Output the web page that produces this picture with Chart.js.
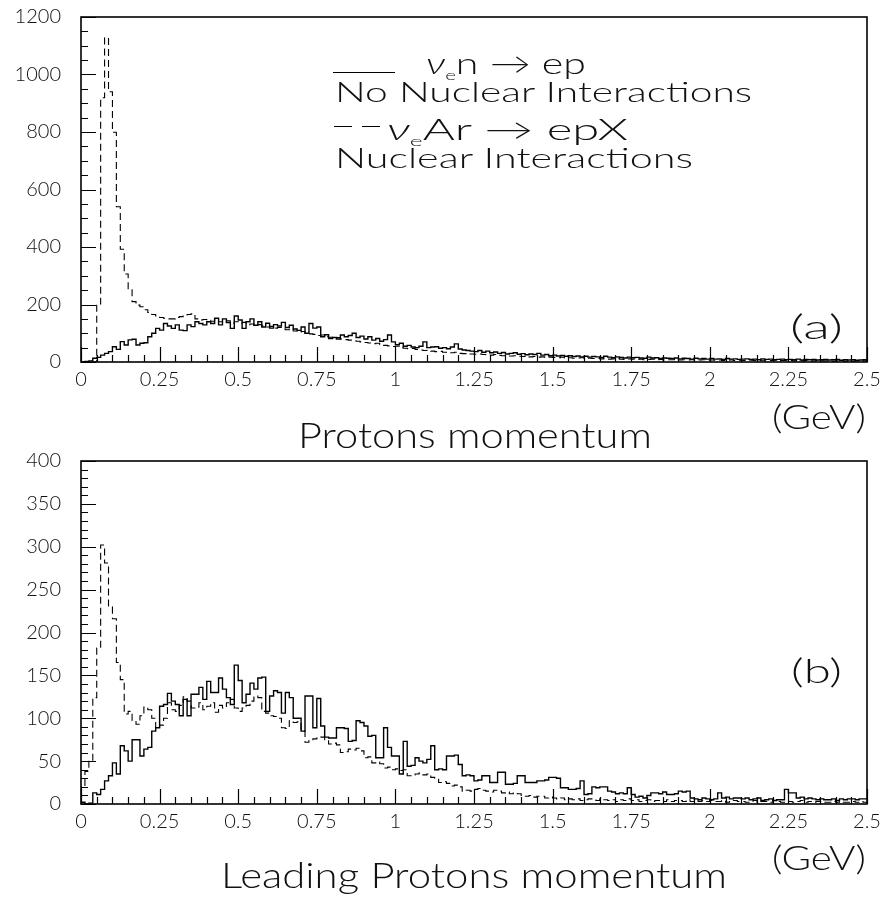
<!DOCTYPE html>
<html>
<head>
<meta charset="utf-8">
<script src="https://cdn.jsdelivr.net/npm/chart.js@4.4.1/dist/chart.umd.min.js"></script>
<style>
  body { margin: 0; background: #fff; }
  #page { position: relative; width: 889px; height: 901px; overflow: hidden;
          font-family: Lato, 'DejaVu Sans', sans-serif; font-weight: 300; color: #111; }
  canvas { position: absolute; left: 0; }
  .txt { position: absolute; white-space: nowrap; line-height: 1; transform-origin: 0 0; }
  .txt sub { font-size: 0.5em; vertical-align: baseline; position: relative; top: 0.45em; }
  .key { position: absolute; height: 0; border-top: 1.5px solid #000; }
</style>
</head>
<body>
<div id="page">
  <canvas id="protons" width="889" height="440" style="top:0"></canvas>
  <canvas id="leading" width="889" height="461" style="top:440px"></canvas>
</div>
<script>
// Histogram binning (GeV)
const BIN_WIDTH = 0.0125;
const X_TICKS = [0, 0.25, 0.5, 0.75, 1, 1.25, 1.5, 1.75, 2, 2.25, 2.5];
const X_TICK_LABELS = ['0', '0.25', '0.5', '0.75', '1', '1.25', '1.5', '1.75', '2', '2.25', '2.5'];
const TOP_Y_TICKS = [0, 200, 400, 600, 800, 1000, 1200];
const LEAD_Y_TICKS = [0, 50, 100, 150, 200, 250, 300, 350, 400];

// (a) all protons -- nu_e n -> e p, no nuclear interactions (solid)
const TOP_FREE = [
  0, 2, 4, 13, 16, 24, 30, 36, 53, 44,
  71, 59, 77, 79, 59, 65, 67, 88, 100, 117,
  111, 134, 125, 117, 129, 111, 109, 129, 123, 140,
  134, 129, 140, 134, 152, 129, 150, 137, 117, 160,
  146, 117, 140, 150, 128, 140, 122, 135, 118, 130,
  125, 138, 120, 128, 115, 110, 122, 100, 134, 118,
  122, 88, 95, 82, 85, 80, 94, 88, 92, 100,
  85, 90, 80, 88, 76, 82, 72, 78, 94, 70,
  60, 65, 55, 58, 52, 50, 55, 70, 50, 52,
  53, 48, 50, 46, 52, 63, 45, 42, 40, 38,
  36, 40, 34, 38, 32, 35, 30, 33, 28, 30,
  32, 27, 29, 25, 28, 26, 30, 24, 26, 22,
  24, 21, 23, 20, 22, 19, 21, 18, 20, 17,
  19, 18, 16, 20, 17, 15, 18, 16, 14, 17,
  15, 16, 14, 13, 17, 14, 15, 12, 14, 13,
  12, 14, 11, 13, 12, 10, 13, 11, 12, 10,
  12, 10, 11, 9, 12, 10, 11, 9, 10, 11,
  9, 10, 8, 11, 9, 10, 8, 9, 10, 8,
  9, 8, 10, 7, 9, 8, 9, 7, 8, 9,
  7, 8, 9, 6, 8, 7, 8, 6, 7, 8
];

// (a) all protons -- nu_e Ar -> e p X, with nuclear interactions (dashed)
const TOP_NUCLEAR = [
  0, 0, 0, 0, 202, 919, 1128, 940, 799, 540,
  392, 306, 253, 210, 198, 192, 182, 172, 165, 160,
  155, 152, 150, 150, 155, 158, 160, 165, 168, 150,
  146, 148, 145, 142, 150, 140, 138, 143, 135, 140,
  135, 138, 130, 132, 128, 130, 125, 122, 124, 118,
  120, 115, 112, 116, 108, 104, 106, 100, 98, 96,
  92, 94, 88, 86, 84, 85, 80, 78, 76, 74,
  72, 70, 68, 66, 64, 65, 60, 58, 56, 54,
  55, 50, 48, 46, 47, 44, 42, 40, 41, 38,
  36, 37, 34, 33, 32, 34, 30, 29, 30, 28,
  27, 28, 26, 25, 24, 26, 23, 22, 23, 21,
  22, 20, 19, 21, 18, 19, 17, 18, 16, 17,
  16, 15, 17, 14, 15, 13, 14, 15, 12, 13,
  12, 13, 11, 12, 10, 11, 12, 10, 9, 11,
  10, 9, 10, 8, 9, 10, 8, 9, 7, 8,
  8, 9, 7, 8, 7, 8, 6, 7, 8, 6,
  7, 6, 7, 5, 6, 7, 5, 6, 5, 6,
  6, 5, 5, 6, 4, 5, 6, 4, 5, 5,
  5, 4, 5, 4, 5, 3, 4, 5, 4, 4,
  4, 3, 4, 5, 3, 4, 3, 4, 3, 4
];

// (b) leading protons, no nuclear interactions (solid)
const LEAD_FREE = [
  2, 0, 1, 13, 11, 17, 27, 33, 48, 35,
  68, 62, 50, 75, 75, 56, 64, 66, 85, 89,
  114, 116, 129, 120, 116, 103, 122, 103, 128, 128,
  136, 122, 143, 130, 130, 147, 134, 124, 116, 162,
  144, 118, 128, 141, 134, 147, 148, 108, 126, 132,
  130, 106, 130, 124, 100, 100, 85, 126, 126, 89,
  123, 91, 78, 77, 77, 89, 89, 88, 73, 74,
  97, 95, 91, 79, 80, 54, 54, 89, 66, 56,
  56, 35, 73, 44, 45, 54, 50, 48, 52, 68,
  40, 41, 40, 56, 56, 57, 46, 33, 34, 33,
  27, 28, 33, 33, 25, 25, 37, 37, 23, 23,
  24, 33, 33, 25, 25, 25, 27, 27, 28, 31,
  31, 30, 19, 19, 17, 17, 18, 27, 11, 12,
  20, 19, 20, 20, 15, 14, 12, 13, 12, 19,
  11, 8, 9, 7, 10, 13, 13, 12, 14, 11,
  11, 12, 15, 14, 15, 7, 6, 5, 7, 6,
  5, 6, 13, 7, 8, 6, 7, 7, 6, 7,
  5, 6, 7, 4, 5, 6, 4, 5, 5, 17,
  13, 13, 7, 8, 6, 7, 6, 5, 6, 5,
  5, 6, 4, 6, 5, 6, 6, 5, 6, 6
];

// (b) leading protons, with nuclear interactions (dashed)
const LEAD_NUCLEAR = [
  20, 38, 51, 124, 182, 302, 281, 230, 216, 165,
  145, 105, 108, 97, 93, 103, 113, 110, 100, 88,
  92, 100, 118, 110, 108, 115, 125, 120, 112, 113,
  118, 110, 114, 118, 107, 115, 112, 118, 122, 112,
  108, 112, 115, 120, 126, 124, 108, 106, 103, 102,
  100, 89, 88, 97, 95, 96, 85, 72, 74, 76,
  77, 78, 75, 70, 71, 69, 60, 61, 64, 63,
  65, 62, 54, 55, 48, 49, 47, 42, 43, 40,
  41, 39, 40, 33, 34, 35, 36, 34, 35, 31,
  30, 25, 26, 24, 21, 22, 20, 15, 16, 15,
  17, 18, 16, 15, 14, 16, 15, 13, 14, 12,
  13, 12, 10, 9, 10, 8, 9, 9, 7, 8,
  7, 6, 7, 5, 6, 5, 6, 4, 5, 6,
  5, 4, 6, 5, 4, 5, 3, 5, 4, 6,
  4, 5, 3, 4, 5, 3, 4, 4, 3, 5,
  3, 4, 4, 3, 5, 3, 4, 3, 4, 3,
  4, 3, 3, 4, 2, 3, 4, 3, 3, 2,
  3, 4, 2, 3, 3, 2, 4, 3, 2, 3,
  3, 2, 3, 4, 2, 3, 2, 3, 3, 2,
  2, 3, 2, 3, 2, 2, 3, 2, 3, 2
];

// histogram -> step points (value of point i holds until the next edge)
function toSteps(values) {
  const pts = [{ x: 0, y: 0 }];
  values.forEach((v, i) => pts.push({ x: i * BIN_WIDTH, y: v }));
  pts.push({ x: values.length * BIN_WIDTH, y: values[values.length - 1] });
  return pts;
}

// PAW style box with inward ticks
function framePlugin(yMajor, yMinor) {
  return {
    id: 'frame',
    afterDraw(chart) {
      const ctx = chart.ctx;
      const a = chart.chartArea;
      const x = chart.scales.x, y = chart.scales.y;
      ctx.save();
      ctx.setLineDash([]);
      ctx.strokeStyle = '#000';
      ctx.lineWidth = 1.2;
      ctx.beginPath();
      for (let k = 0; k <= 50; k++) {
        const px = Math.round(x.getPixelForValue(k * 0.05)) + 0.5;
        const len = k % 5 === 0 ? 15 : 7;
        ctx.moveTo(px, a.bottom);
        ctx.lineTo(px, a.bottom - len);
      }
      for (let v = 0; v <= y.max; v += yMinor) {
        const py = Math.round(y.getPixelForValue(v)) + 0.5;
        const len = v % yMajor === 0 ? 15 : 7;
        ctx.moveTo(a.left, py);
        ctx.lineTo(a.left + len, py);
      }
      ctx.stroke();
      ctx.lineWidth = 1.6;
      ctx.strokeRect(a.left, a.top, a.right - a.left, a.bottom - a.top);
      ctx.restore();
    }
  };
}

Chart.defaults.font.family = "Lato, 'DejaVu Sans', sans-serif";
Chart.defaults.font.weight = 300;
Chart.defaults.color = '#111';

function makeHist(id, free, nuclear, yTicks, box) {
  const yMax = yTicks[yTicks.length - 1];
  const canvas = document.getElementById(id);
  return new Chart(canvas, {
    type: 'line',
    data: {
      datasets: [
        {
          label: 'no nuclear interactions',
          data: toSteps(free),
          stepped: true,
          borderColor: '#000',
          borderWidth: 1.4,
          pointRadius: 0,
          fill: false
        },
        {
          label: 'nuclear interactions',
          data: toSteps(nuclear),
          stepped: true,
          borderColor: '#000',
          borderWidth: 1.1,
          borderDash: [7, 4],
          pointRadius: 0,
          fill: false
        }
      ]
    },
    options: {
      responsive: false,
      animation: false,
      events: [],
      layout: { padding: { top: box.top, right: 22, left: 0, bottom: 0 } },
      plugins: { legend: { display: false }, tooltip: { enabled: false } },
      scales: {
        x: {
          type: 'linear',
          min: 0,
          max: 2.5,
          grid: { display: false, drawTicks: false },
          border: { display: false },
          afterBuildTicks: s => { s.ticks = X_TICKS.map(v => ({ value: v })); },
          // pin the plot box: fixed axis height, no label overhang padding
          afterFit: s => { s.height = canvas.height - box.bottom; s.paddingLeft = 0; s.paddingRight = 0; },
          ticks: {
            autoSkip: false,
            maxRotation: 0,
            padding: 6,
            font: { size: 20, weight: 300 },
            callback: v => X_TICK_LABELS[X_TICKS.indexOf(v)]
          }
        },
        y: {
          min: 0,
          max: yMax,
          grid: { display: false, drawTicks: false },
          border: { display: false },
          afterBuildTicks: s => { s.ticks = yTicks.map(v => ({ value: v })); },
          afterFit: s => { s.width = 81; s.paddingTop = 0; s.paddingBottom = 0; },
          ticks: {
            padding: 20,
            font: { size: 20, weight: 300 },
            callback: v => String(v)
          }
        }
      }
    },
    plugins: [framePlugin(yTicks[1] - yTicks[0], box.yMinor)]
  });
}

makeHist('protons', TOP_FREE, TOP_NUCLEAR, TOP_Y_TICKS, { top: 17, bottom: 362, yMinor: 50 });
makeHist('leading', LEAD_FREE, LEAD_NUCLEAR, LEAD_Y_TICKS, { top: 21, bottom: 364, yMinor: 10 });

// text annotations, baseline-positioned and stretched to the reference width
const page = document.getElementById('page');
function note(html, x, base, size, width) {
  const el = document.createElement('div');
  el.className = 'txt';
  el.innerHTML = html;
  el.style.fontSize = size + 'px';
  el.style.left = x + 'px';
  el.style.top = (base - 0.84 * size) + 'px';
  page.appendChild(el);
  const w = el.getBoundingClientRect().width;
  if (width && w > 0) el.style.transform = 'scaleX(' + (width / w).toFixed(3) + ')';
}
function key(x, y, w) {
  const el = document.createElement('div');
  el.className = 'key';
  el.style.left = x + 'px';
  el.style.top = y + 'px';
  el.style.width = w + 'px';
  page.appendChild(el);
}

key(333, 72, 62);
note('<i>ν</i><sub>e</sub>n&nbsp;→&nbsp;ep', 426, 72, 29, 160);
note('No Nuclear Interactions', 335, 101, 28, 417);
key(334, 126, 18);
key(362, 126, 18);
note('<i>ν</i><sub>e</sub>Ar&nbsp;→&nbsp;epX', 387, 138, 29, 241);
note('Nuclear Interactions', 335, 167, 28, 358);
note('(a)', 790, 338, 34, 53);

note('(GeV)', 772, 428, 34, 94);
note('Protons momentum', 298, 446, 36, 354);

note('(b)', 791, 682, 34, 51);
note('(GeV)', 772, 869, 34, 94);
note('Leading Protons momentum', 221, 886, 36, 506);
</script>
</body>
</html>
